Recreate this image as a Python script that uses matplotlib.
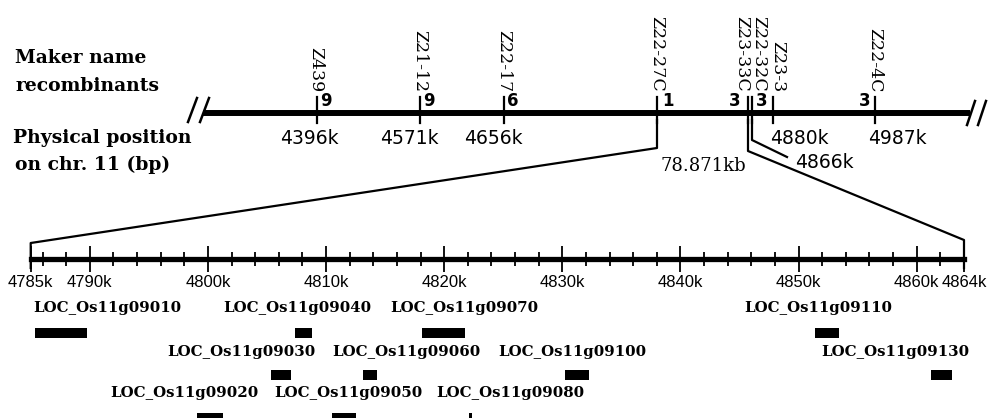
import numpy as np
import matplotlib.pyplot as plt

# upper map: markers on chr. 11 (drawn schematic, not to scale)
marker_names = ['Z439', 'Z21-12', 'Z22-17', 'Z22-27C', 'Z23-33C', 'Z22-32C', 'Z23-3', 'Z22-4C']
recombinants = [9, 9, 6, 1, 3, None, 3, 3]
positions = ['4396k', '4571k', '4656k', '', '', '4866k', '4880k', '4987k']
interval = '78.871kb'

# lower map: 4785k - 4864k
fine_start = 4785
fine_end = 4864
fine_ticklabels = [4785, 4790, 4800, 4810, 4820, 4830, 4840, 4850, 4860, 4864]
genes = ['LOC_Os11g09010', 'LOC_Os11g09020', 'LOC_Os11g09030', 'LOC_Os11g09040',
         'LOC_Os11g09050', 'LOC_Os11g09060', 'LOC_Os11g09070', 'LOC_Os11g09080',
         'LOC_Os11g09100', 'LOC_Os11g09110', 'LOC_Os11g09130']
gene_start = [4785.4, 4799.1, 4805.3, 4807.4, 4810.5, 4813.1, 4818.1, 4822.1, 4830.2, 4851.4, 4861.2]
gene_end = [4789.8, 4801.3, 4807.0, 4808.8, 4812.5, 4814.3, 4821.8, 4822.35, 4832.3, 4853.4, 4863.0]
gene_row = [0, 2, 1, 0, 2, 1, 0, 2, 1, 0, 1]

# layout (pixels of the 989x418 picture)
marker_x = [317, 420, 504, 657, 748, 752, 773, 875]
name_x = [316, 420, 504, 657, 742, 759, 778, 875]
rec_dx = [9, 9, 9, 11, -13, 0, -11, -10]
pos_xy = [(309, 138, 'center'), (409, 138, 'center'), (493, 138, 'center'), None, None,
          (795, 162, 'left'), (770, 138, 'left'), (868, 138, 'left')]
label_x = [4785.2, 4791.7, 4796.6, 4801.3, 4805.6, 4810.5, 4815.4, 4819.3, 4824.6, 4845.4, 4851.9]
row_bar_y = [328, 370, 413]
row_label_y = [308, 352, 393]
FX0, FX1 = 30.7, 964.0
W, H = 989, 418

fig = plt.figure(figsize=(W / 100, H / 100), dpi=100)
ax = fig.add_axes([0, 0, 1, 1])
ax.set_xlim(0, W)
ax.set_ylim(H, 0)
ax.axis('off')

serif_b = dict(family='DejaVu Serif', fontweight='bold')

# left titles
ax.text(15, 58, 'Maker name', fontsize=13.5, va='center', **serif_b)
ax.text(15, 86, 'recombinants', fontsize=13.5, va='center', **serif_b)
ax.text(13, 138, 'Physical position', fontsize=13.5, va='center', **serif_b)
ax.text(15, 165, 'on chr. 11 (bp)', fontsize=13.5, va='center', **serif_b)

# chromosome line with break marks
ax.plot([203, 970], [113, 113], color='black', lw=4.3, solid_capstyle='butt')
for x in (188, 200):
    ax.plot([x, x + 9], [122, 98], color='black', lw=1.8)
for x in (967, 978):
    ax.plot([x, x + 8], [125, 101], color='black', lw=1.8)

for i, name in enumerate(marker_names):
    x = marker_x[i]
    ax.plot([x, x], [97, 123], color='black', lw=1.6)
    ax.text(name_x[i], 92, name, rotation=-90, ha='center', va='bottom',
            family='DejaVu Serif', fontsize=12.5)
    if recombinants[i] is not None:
        ax.text(x + rec_dx[i], 101, str(recombinants[i]), ha='center', va='center',
                family='DejaVu Sans', fontweight='bold', fontsize=12)
    if pos_xy[i] is not None:
        px, py, ha = pos_xy[i]
        ax.text(px, py, positions[i], ha=ha, va='center', family='DejaVu Sans', fontsize=13.5)

# connectors to the fine map
ax.plot([657, 657, FX0, FX0], [120, 148, 243, 268], color='black', lw=1.6)
ax.plot([748, 748, FX1, FX1], [120, 151, 240, 268], color='black', lw=1.6)
ax.plot([752, 752, 787], [120, 140, 157], color='black', lw=1.6)
ax.text(703, 166, interval, ha='center', va='center', family='DejaVu Serif', fontsize=13)

# fine map axes in kb
axf = fig.add_axes([FX0 / W, 0, (FX1 - FX0) / W, (H - 238) / H])
axf.set_facecolor('none')
axf.set_xlim(fine_start, fine_end)
axf.set_ylim(H, 238)
for s in ('top', 'left', 'right'):
    axf.spines[s].set_visible(False)
axf.spines['bottom'].set_position(('data', 259))
axf.spines['bottom'].set_linewidth(3.8)
axf.set_yticks([])
axf.set_xticks(fine_ticklabels, [f'{v}k' for v in fine_ticklabels])
axf.set_xticks(np.arange(fine_start + 1, fine_end, 2), minor=True)
axf.tick_params(axis='x', which='major', direction='inout', length=19, width=1.3, pad=2,
                labelsize=12)
axf.tick_params(axis='x', which='minor', direction='inout', length=10, width=1.3)
for lab in axf.get_xticklabels():
    lab.set_family('Liberation Sans')

left = np.array(gene_start)
width = np.array(gene_end) - left
bar_y = [row_bar_y[r] for r in gene_row]
axf.barh(bar_y, width, left=left, height=10, color='black', align='edge')
for i, g in enumerate(genes):
    axf.text(label_x[i], row_label_y[gene_row[i]], g, ha='left', va='center',
             fontsize=10.8, **serif_b)

fig.savefig('out.png', dpi=100)
